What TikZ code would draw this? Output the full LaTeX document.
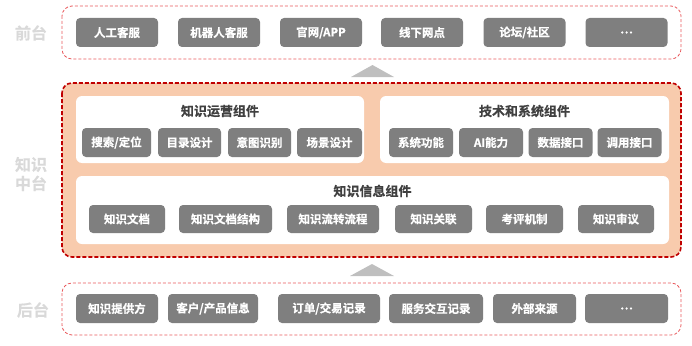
\documentclass[tikz,border=0pt]{standalone}
\usepackage{fontspec}
\setmainfont{Noto Sans CJK SC}
\newfontfamily\cjkb{Noto Sans CJK SC}[UprightFont={* Bold}, FakeBold=0.6]
\definecolor{btngray}{HTML}{7F7F7F}
\definecolor{lightred}{HTML}{E8575A}
\definecolor{darkred}{HTML}{C00000}
\definecolor{peach}{HTML}{F8CBAD}
\definecolor{sidegray}{HTML}{D9D9D9}
\definecolor{titlegray}{HTML}{404040}
\definecolor{arrowgray}{HTML}{BFBFBF}
\tikzset{
  btn/.style={fill=btngray, rounded corners=4pt, text=white, inner sep=0pt,
    font=\cjkb\fontsize{11.5}{12}\selectfont, minimum height=29pt},
  outerbox/.style={draw=lightred, dash pattern=on 3pt off 2pt, line width=0.8pt, rounded corners=10pt},
  midbox/.style={draw=darkred, fill=peach, dash pattern=on 4pt off 2pt, line width=1.6pt, rounded corners=10pt},
  panel/.style={fill=white, rounded corners=6pt},
  sidelabel/.style={text=sidegray, font=\cjkb\fontsize{16}{19}\selectfont, align=center},
  paneltitle/.style={text=titlegray, font=\cjkb\fontsize{13}{14}\selectfont},
  uparrow/.style={fill=arrowgray}
}
\begin{document}
\begin{tikzpicture}[x=1pt,y=-1pt]
\useasboundingbox (0,0) rectangle (692,345);
% top layer
\draw[outerbox] (62,6) rectangle (681,59);
\node[sidelabel] (front) at (31,33) {前台};
\node[btn, minimum width=82pt] (t1) at (117,32.5) {人工客服};
\node[btn, minimum width=82pt] (t2) at (219,32.5) {机器人客服};
\node[btn, minimum width=82pt] (t3) at (321,32.5) {官网/APP};
\node[btn, minimum width=82pt] (t4) at (422,32.5) {线下网点};
\node[btn, minimum width=82pt] (t5) at (524.5,32.5) {论坛/社区};
\node[btn, minimum width=82pt] (t6) at (626.5,32.5) {…};
% arrow
\fill[uparrow] (372.5,65) -- (394,77) -- (351,77) -- cycle;
% middle layer
\draw[midbox] (62,83) rectangle (681,257);
\node[sidelabel] (mid) at (31,174) {知识\\中台};
\fill[panel] (76,96) rectangle (364,163);
\fill[panel] (380,96) rectangle (669,163);
\fill[panel] (76,176) rectangle (669,244);
\node[paneltitle] (p1) at (220,111) {知识运营组件};
\node[paneltitle] (p2) at (524.5,111) {技术和系统组件};
\node[paneltitle] (p3) at (372.5,191) {知识信息组件};
\node[btn, minimum width=69pt] (a1) at (116.5,142.5) {搜索/定位};
\node[btn, minimum width=63pt] (a2) at (189.5,142.5) {目录设计};
\node[btn, minimum width=63pt] (a3) at (259.5,142.5) {意图识别};
\node[btn, minimum width=65pt] (a4) at (329.5,142.5) {场景设计};
\node[btn, minimum width=64pt] (b1) at (421,142.5) {系统功能};
\node[btn, minimum width=64pt] (b2) at (491,142.5) {AI能力};
\node[btn, minimum width=64pt] (b3) at (560.5,142.5) {数据接口};
\node[btn, minimum width=64pt] (b4) at (629.5,142.5) {调用接口};
\node[btn, minimum width=76pt, minimum height=28pt] (c1) at (127,219) {知识文档};
\node[btn, minimum width=93pt, minimum height=28pt] (c2) at (225.5,219) {知识文档结构};
\node[btn, minimum width=92pt, minimum height=28pt] (c3) at (333,219) {知识流转流程};
\node[btn, minimum width=77pt, minimum height=28pt] (c4) at (433.5,219) {知识关联};
\node[btn, minimum width=77pt, minimum height=28pt] (c5) at (524.5,219) {考评机制};
\node[btn, minimum width=76pt, minimum height=28pt] (c6) at (616,219) {知识审议};
% arrow
\fill[uparrow] (372,264) -- (394,276) -- (350,276) -- cycle;
% bottom layer
\draw[outerbox] (62,283) rectangle (681,335);
\node[sidelabel] (back) at (33,310) {后台};
\node[btn, minimum width=82pt] (d1) at (117,308.5) {知识提供方};
\node[btn, minimum width=90pt] (d2) at (213,308.5) {客户/产品信息};
\node[btn, minimum width=102pt] (d3) at (329,308.5) {订单/交易记录};
\node[btn, minimum width=94pt] (d4) at (436,308.5) {服务交互记录};
\node[btn, minimum width=83pt] (d5) at (534.5,308.5) {外部来源};
\node[btn, minimum width=83pt] (d6) at (626.5,308.5) {…};
\end{tikzpicture}
\end{document}
